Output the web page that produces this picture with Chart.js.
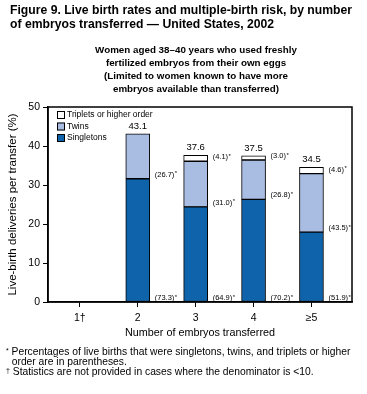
<!DOCTYPE html>
<html>
<head>
<meta charset="utf-8">
<script src="https://cdn.jsdelivr.net/npm/chart.js@4.4.1/dist/chart.umd.min.js"></script>
<style>
  body { margin: 0; background: #fff; font-family: "Liberation Sans", Arial, sans-serif; color: #000; }
  #wrap { position: relative; width: 367px; height: 394px; overflow: hidden; }
  #chart { position: absolute; left: 0; top: 0; }
  .txt { position: absolute; white-space: nowrap; }
  #title { left: 10px; top: 3px; font-weight: bold; font-size: 12.2px; line-height: 14px; }
  #subtitle { left: 95px; width: 202px; top: 43px; font-weight: bold; font-size: 9.8px; line-height: 13px; text-align: center; }
  #xtitle { left: 100px; width: 200px; top: 326px; font-size: 10.8px; text-align: center; }
  #notes { left: 6px; top: 346px; font-size: 10.3px; line-height: 9.7px; }
  #notes sup { font-size: 7px; vertical-align: 2px; }
</style>
</head>
<body>
<div id="wrap">
  <canvas id="chart" width="367" height="394"></canvas>
  <div id="title" class="txt">Figure 9. Live birth rates and multiple-birth risk, by number<br>of embryos transferred — United States, 2002</div>
  <div id="subtitle" class="txt">Women aged 38–40 years who used freshly<br>fertilized embryos from their own eggs<br>(Limited to women known to have more<br>embryos available than transferred)</div>
  <div id="xtitle" class="txt">Number of embryos transferred</div>
  <div id="notes" class="txt"><sup>*</sup> Percentages of live births that were singletons, twins, and triplets or higher<br>&nbsp;&nbsp;order are in parentheses.<br><sup>†</sup> Statistics are not provided in cases where the denominator is &lt;10.</div>
</div>
<script>
// number of embryos transferred (position on the x axis) and its tick label
const positions = [1, 2, 3, 4, 5];
const categories = ['1†', '2', '3', '4', '≥5'];

// live-birth deliveries per transfer (%), split by birth type
const singletons = [null, 31.6, 24.4, 26.3, 17.9];
const twins = [null, 11.5, 11.7, 10.1, 15.0];
const triplets = [null, null, 1.5, 1.1, 1.6];
const totals = [null, 43.1, 37.6, 37.5, 34.5];

// percentage of live births of each type (shown in parentheses)
const singletonPct = [null, '73.3', '64.9', '70.2', '51.9'];
const twinPct = [null, '26.7', '31.0', '26.8', '43.5'];
const tripletPct = [null, null, '4.1', '3.0', '4.6'];

const yTicks = [0, 10, 20, 30, 40, 50];

Chart.defaults.font.family = '"Liberation Sans", Arial, sans-serif';
Chart.defaults.color = '#000';

const toPoints = arr => positions.map((x, i) => ({ x: x, y: arr[i] }));

// frame around the plot area
const framePlugin = {
  id: 'frame',
  beforeDatasetsDraw(chart) {
    const { ctx, chartArea: a } = chart;
    ctx.save();
    ctx.strokeStyle = '#000';
    ctx.lineWidth = 1.5;
    ctx.strokeRect(a.left, a.top, a.right - a.left, a.bottom - a.top);
    ctx.restore();
  }
};

// totals above the bars and percentages beside each segment
const labelPlugin = {
  id: 'barLabels',
  afterDatasetsDraw(chart) {
    const { ctx, scales: { x, y } } = chart;
    ctx.save();
    ctx.fillStyle = '#000';
    positions.forEach((v, i) => {
      if (totals[i] == null) return;
      const px = x.getPixelForValue(v);
      ctx.font = '9.5px "Liberation Sans", Arial, sans-serif';
      ctx.textAlign = 'center';
      ctx.textBaseline = 'bottom';
      ctx.fillText(totals[i].toFixed(1), px, y.getPixelForValue(totals[i]) - 3);

      const segs = [
        [singletonPct[i], 0],
        [twinPct[i], singletons[i]],
        [tripletPct[i], singletons[i] + twins[i]]
      ];
      ctx.textAlign = 'left';
      ctx.textBaseline = 'middle';
      segs.forEach(([pct, base]) => {
        if (pct == null) return;
        const ly = y.getPixelForValue(base) - 4;
        const lx = px + 12 + 5;
        ctx.font = '7.5px "Liberation Sans", Arial, sans-serif';
        const s = '(' + pct + ')';
        ctx.fillText(s, lx, ly);
        const w = ctx.measureText(s).width;
        ctx.font = '6px "Liberation Sans", Arial, sans-serif';
        ctx.fillText('*', lx + w + 0.5, ly - 1);
      });
    });
    ctx.restore();
  }
};

// legend box in the top-left corner of the plot
const legendPlugin = {
  id: 'innerLegend',
  afterDatasetsDraw(chart) {
    const { ctx, chartArea: a } = chart;
    const items = chart.data.datasets.slice().reverse();
    ctx.save();
    ctx.font = '8.5px "Liberation Sans", Arial, sans-serif';
    ctx.textAlign = 'left';
    ctx.textBaseline = 'middle';
    items.forEach((ds, k) => {
      const cy = a.top + 8 + k * 11.5;
      ctx.fillStyle = ds.backgroundColor;
      ctx.fillRect(a.left + 9, cy - 4, 8, 8);
      ctx.strokeStyle = '#000';
      ctx.lineWidth = 1;
      ctx.strokeRect(a.left + 9.5, cy - 3.5, 7, 7);
      ctx.fillStyle = '#000';
      ctx.fillText(ds.label, a.left + 19, cy);
    });
    ctx.restore();
  }
};

const barStyle = { borderColor: '#000', borderWidth: 1, borderSkipped: false, barThickness: 24 };

new Chart(document.getElementById('chart'), {
  type: 'bar',
  data: {
    datasets: [
      Object.assign({ label: 'Singletons', data: toPoints(singletons), backgroundColor: '#0e63ab' }, barStyle),
      Object.assign({ label: 'Twins', data: toPoints(twins), backgroundColor: '#a9bce2' }, barStyle),
      Object.assign({ label: 'Triplets or higher order', data: toPoints(triplets), backgroundColor: '#ffffff' }, barStyle)
    ]
  },
  options: {
    responsive: false,
    animation: false,
    devicePixelRatio: 1,
    layout: { padding: { top: 107, right: 15, bottom: 62, left: 0 } },
    plugins: { legend: { display: false }, tooltip: { enabled: false } },
    scales: {
      x: {
        type: 'linear',
        min: 0.45,
        max: 5.7,
        offset: false,
        stacked: true,
        afterFit(s) { s.height = 30; },
        afterBuildTicks(s) { s.ticks = positions.map(v => ({ value: v })); },
        ticks: {
          callback: v => categories[positions.indexOf(v)],
          font: { size: 10.5 },
          padding: 5,
          maxRotation: 0,
          autoSkip: false
        },
        grid: { offset: false, drawOnChartArea: false, tickLength: 5, tickColor: '#000' },
        border: { color: '#000', width: 1.5 }
      },
      y: {
        min: 0,
        max: 50,
        stacked: true,
        afterFit(s) { s.width = 48; },
        afterBuildTicks(s) { s.ticks = yTicks.map(v => ({ value: v })); },
        ticks: { font: { size: 10.5 }, padding: 3 },
        grid: { drawOnChartArea: false, tickLength: 5, tickColor: '#000' },
        border: { color: '#000', width: 1.5 },
        title: {
          display: true,
          text: 'Live-birth deliveries per transfer (%)',
          font: { size: 11.5 },
          padding: { top: 6, bottom: 0 }
        }
      }
    }
  },
  plugins: [framePlugin, labelPlugin, legendPlugin]
});
</script>
</body>
</html>
